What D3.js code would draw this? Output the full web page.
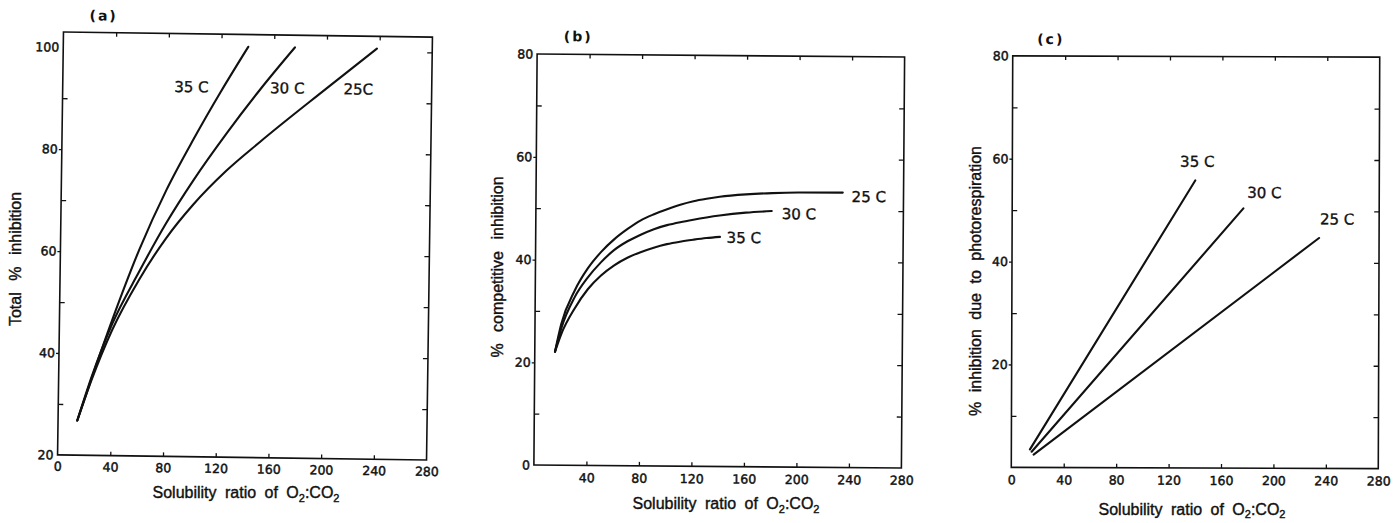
<!DOCTYPE html>
<html>
<head>
<meta charset="utf-8">
<script src="https://cdn.jsdelivr.net/npm/d3@7"></script>
<style>
  html, body { margin: 0; padding: 0; background: #fff; }
  svg { display: block; }
  .tick text { font-family: "DejaVu Sans", sans-serif; font-size: 12.5px; fill: #111; stroke: #111; stroke-width: 0.45px; }
  .tick line { stroke: #111; stroke-width: 1.3; }
  .curve { fill: none; stroke: #111; stroke-width: 2.1; stroke-linecap: round; }
  .frame { fill: none; stroke: #111; stroke-width: 1.6; }
  .clabel { font-family: "DejaVu Sans", sans-serif; font-size: 15px; fill: #111; stroke: #111; stroke-width: 0.35px; }
  .title { font-family: "Liberation Sans", Arial, sans-serif; font-size: 16px; fill: #111; stroke: #111; stroke-width: 0.4px; }
  .plabel { font-family: "DejaVu Sans", sans-serif; font-size: 14px; font-weight: bold; fill: #111; letter-spacing: 2px; }
</style>
</head>
<body>
<svg id="chart" width="1400" height="523"></svg>
<script>
// ---- shared axis values ----
const ratioTicks = [0, 40, 80, 120, 160, 200, 240, 280];
const temps = ["35 C", "30 C", "25 C"];

// ---- (a) total % inhibition ----
const ratioA35 = [14.6, 25, 40, 60, 80, 100, 120, 140.4];
const totalA35 = [26.8, 35.1, 46.6, 60.6, 72.4, 82.4, 91.7, 100.6];
const ratioA30 = [14.6, 25, 40, 60, 80, 100, 125, 150, 175.8];
const totalA30 = [26.8, 35.4, 45.8, 56.2, 65.8, 74.2, 83.6, 92.3, 100.6];
const ratioA25 = [14.6, 25, 40, 60, 80, 100, 125, 150, 200, 238];
const totalA25 = [26.8, 34.8, 44.6, 54.6, 62.8, 69.4, 76.2, 81.9, 92.6, 100.6];
const yTicksA = [20, 40, 60, 80, 100];

// ---- (b) % competitive inhibition ----
const ratioB25 = [15.4, 20, 30, 40, 50, 60, 70, 80, 90, 100, 110, 120, 130, 140, 160, 180, 200, 233.7];
const compB25 = [22.1, 27.5, 34.0, 38.4, 41.6, 44.1, 46.1, 47.8, 49.0, 50.0, 50.9, 51.6, 52.1, 52.5, 53.0, 53.3, 53.45, 53.5];
const ratioB30 = [15.4, 20, 30, 40, 50, 60, 70, 80, 90, 100, 110, 120, 130, 140, 160, 179.7];
const compB30 = [22.1, 26.6, 32.7, 36.6, 39.6, 42.0, 43.7, 45.0, 46.1, 46.9, 47.5, 48.0, 48.45, 48.85, 49.45, 49.8];
const ratioB35 = [15.4, 20, 30, 40, 50, 60, 70, 80, 90, 100, 110, 120, 130, 140.4];
const compB35 = [22.1, 25.5, 30.5, 34.3, 37.0, 39.0, 40.5, 41.6, 42.5, 43.2, 43.7, 44.1, 44.45, 44.7];
const yTicksB = [0, 20, 40, 60, 80];

// ---- (c) % inhibition due to photorespiration ----
const ratioC35 = [14.2, 139.6];
const photoC35 = [3.5, 55.9];
const ratioC30 = [15.5, 176.4];
const photoC30 = [3.05, 50.5];
const ratioC25 = [17, 234.2];
const photoC25 = [2.5, 44.8];
const yTicksC = [20, 40, 60, 80];

const zip = (xs, ys) => xs.map((x, i) => ({ x, y: ys[i] }));

const svg = d3.select("#chart");

// "Solubility ratio of O2:CO2" with subscripts
const ratioTitle = (sel, sub) => {
  sel.append("tspan").text("Solubility ratio of O");
  sel.append("tspan").attr("dy", sub).attr("font-size", 11).text("2");
  sel.append("tspan").attr("dy", -sub).text(":CO");
  sel.append("tspan").attr("dy", sub).attr("font-size", 11).text("2");
};

function panel(cfg) {
  const w = cfg.right - cfg.left, h = cfg.bottom - cfg.top;
  const cx = (cfg.left + cfg.right) / 2, cy = (cfg.top + cfg.bottom) / 2;
  const outer = svg.append("g").attr("transform", `rotate(${cfg.tilt},${cx},${cy})`);
  const g = outer.append("g").attr("transform", `translate(${cfg.left},${cfg.top})`);

  const x = d3.scaleLinear().domain([0, 280]).range([0, w]);
  const y = d3.scaleLinear().domain(cfg.yDomain).range([h, 0]);

  const inner = d3.range(cfg.yDomain[0] + 10, cfg.yDomain[1], 10);
  const minorLeft = inner.filter(v => !cfg.yLabels.includes(v));
  const rightTicks = inner.filter(v => v <= cfg.rightMax);
  const midX = ratioTicks.filter(v => v > 0 && v < 280);

  // left: labelled ticks, pointing out
  g.append("g").call(d3.axisLeft(y).tickValues(cfg.yLabels).tickSize(3).tickPadding(1)
      .tickFormat(d3.format("d")))
    .call(a => a.select(".domain").remove())
    .call(a => a.selectAll(".tick line").filter(d => d === cfg.yDomain[0] || d >= cfg.yDomain[1] - 3).remove());
  // left: minor ticks, pointing in
  g.append("g").call(d3.axisRight(y).tickValues(minorLeft).tickSize(5).tickFormat(""))
    .call(a => a.select(".domain").remove());
  // right: every 10, pointing in
  g.append("g").attr("transform", `translate(${w},0)`)
    .call(d3.axisLeft(y).tickValues(rightTicks).tickSize(5).tickFormat(""))
    .call(a => a.select(".domain").remove());
  // top ticks
  g.append("g").call(d3.axisBottom(x).tickValues(midX).tickSize(4).tickFormat(""))
    .call(a => a.select(".domain").remove());
  // bottom ticks, pointing in
  g.append("g").attr("transform", `translate(0,${h})`)
    .call(d3.axisTop(x).tickValues(midX).tickSize(4).tickFormat(""))
    .call(a => a.select(".domain").remove());
  // bottom labels
  g.append("g").attr("transform", `translate(0,${h})`)
    .call(d3.axisBottom(x).tickValues(cfg.xLabels).tickSize(0).tickPadding(cfg.xPad).tickFormat(d3.format("d")))
    .call(a => a.select(".domain").remove());

  g.append("rect").attr("class", "frame").attr("width", w).attr("height", h);

  const line = d3.line().x(d => x(d.x)).y(d => y(d.y)).curve(cfg.curve);
  cfg.series.forEach(s => {
    g.append("path").attr("class", "curve").attr("d", line(s));
  });
  cfg.labels.forEach(l => {
    g.append("text").attr("class", "clabel")
      .attr("x", x(l.x)).attr("y", y(l.y)).attr("dy", "0.36em")
      .attr("text-anchor", l.anchor).text(l.text);
  });

  // panel tag
  g.append("text").attr("class", "plabel").attr("x", cfg.tag[0]).attr("y", cfg.tag[1])
    .attr("text-anchor", "middle").text(cfg.tagText);

  // x title
  svg.append("text").attr("class", "title").attr("x", cfg.xTitle[0]).attr("y", cfg.xTitle[1])
    .attr("text-anchor", "middle").attr("word-spacing", cfg.xTitle[2])
    .call(ratioTitle, cfg.xTitle[3]);
  // y title
  svg.append("text").attr("class", "title")
    .attr("transform", `translate(${cfg.yTitle[0]},${cfg.yTitle[1]}) rotate(-90)`)
    .attr("text-anchor", "middle").attr("word-spacing", cfg.yTitle[2]).text(cfg.yTitleText);
}

panel({
  left: 60.5, right: 429.5, top: 34.5, bottom: 457.5, tilt: 0.8,
  yDomain: [20, 103], yLabels: yTicksA, rightMax: 100, xLabels: ratioTicks, xPad: 7,
  curve: d3.curveMonotoneX,
  series: [zip(ratioA35, totalA35), zip(ratioA30, totalA30), zip(ratioA25, totalA25)],
  labels: [
    { x: 97.7, y: 92.6, text: temps[0], anchor: "middle" },
    { x: 170.4, y: 92.6, text: temps[1], anchor: "middle" },
    { x: 224.3, y: 92.6, text: "25C", anchor: "middle" }
  ],
  tag: [40, -12], tagText: "(a)",
  xTitle: [246, 498, 4, 4], yTitle: [21, 259, 7], yTitleText: "Total % inhibition"
});

panel({
  left: 535.5, right: 903, top: 55.5, bottom: 466.5, tilt: 0.45,
  yDomain: [0, 80], yLabels: yTicksB, rightMax: 70, xLabels: ratioTicks.slice(1), xPad: 8,
  curve: d3.curveMonotoneX,
  series: [zip(ratioB25, compB25), zip(ratioB30, compB30), zip(ratioB35, compB35)],
  labels: [
    { x: 240.5, y: 52.75, text: temps[2], anchor: "start" },
    { x: 187.3, y: 49.3, text: temps[1], anchor: "start" },
    { x: 145.5, y: 44.6, text: temps[0], anchor: "start" }
  ],
  tag: [41, -13], tagText: "(b)",
  xTitle: [726, 509, 4, 4], yTitle: [503, 267, 7], yTitleText: "% competitive inhibition"
});

panel({
  left: 1012, right: 1379, top: 56.5, bottom: 468, tilt: 0.2,
  yDomain: [0, 80], yLabels: yTicksC, rightMax: 70, xLabels: ratioTicks, xPad: 8,
  curve: d3.curveLinear,
  series: [zip(ratioC35, photoC35), zip(ratioC30, photoC30), zip(ratioC25, photoC25)],
  labels: [
    { x: 141.1, y: 59.6, text: temps[0], anchor: "middle" },
    { x: 192.4, y: 53.6, text: temps[1], anchor: "middle" },
    { x: 247.9, y: 48.5, text: temps[2], anchor: "middle" }
  ],
  tag: [38, -12], tagText: "(c)",
  xTitle: [1192, 515, 4, 3], yTitle: [981, 281, 5], yTitleText: "% inhibition due to photorespiration"
});
</script>
</body>
</html>
